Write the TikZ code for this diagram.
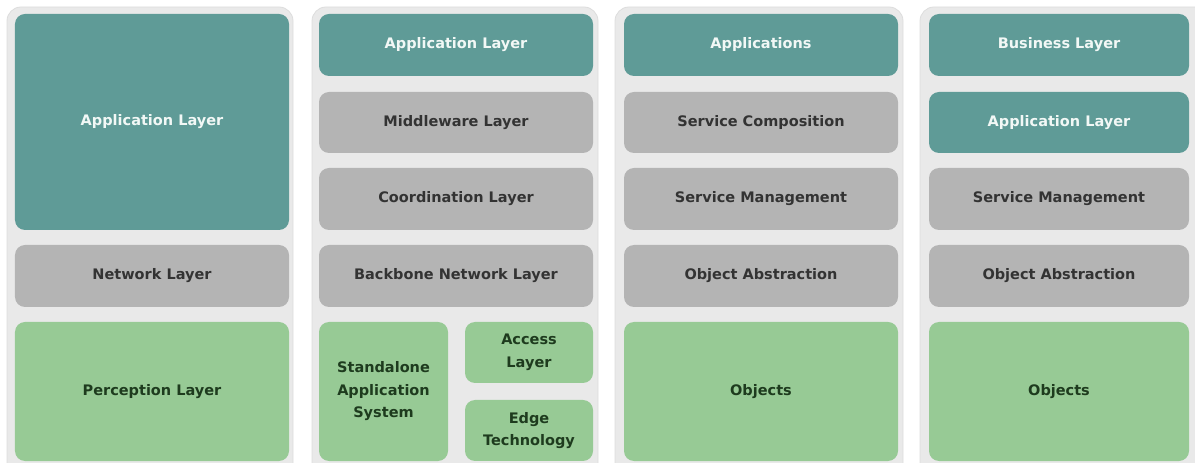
\documentclass[tikz,border=0pt]{standalone}
\usepackage{fontspec}
\setmainfont{DejaVu Sans}
\definecolor{panelbg}{HTML}{E9E9E9}
\definecolor{panelrim}{HTML}{DDDDDD}
\definecolor{tealfill}{HTML}{5F9B97}
\definecolor{grayfill}{HTML}{B4B4B4}
\definecolor{greenfill}{HTML}{97CA95}
\definecolor{tealtext}{HTML}{F2F8F6}
\definecolor{graytext}{HTML}{333333}
\definecolor{greentext}{HTML}{1E3B1E}
\tikzset{
  panel/.style={fill=panelbg, draw=panelrim, line width=0.8bp, rounded corners=14bp},
  layerbox/.style={rectangle, rounded corners=10bp, inner sep=0pt, draw=none,
    align=center, font=\bfseries\fontsize{14.5bp}{22.5bp}\selectfont},
  tealbox/.style={layerbox, fill=tealfill, text=tealtext},
  graybox/.style={layerbox, fill=grayfill, text=graytext},
  greenbox/.style={layerbox, fill=greenfill, text=greentext},
  sz/.style 2 args={minimum width=#1bp, minimum height=#2bp},
}
\begin{document}
\begin{tikzpicture}[x=1bp, y=-1bp]
  \useasboundingbox (0,0) rectangle (1195,463);
  \fill[white] (0,0) rectangle (1195,463);
  \begin{scope}
    \clip (0,0) rectangle (1195,463);
    % column panels
    \draw[panel] (7,7) rectangle (293,478);
    \draw[panel] (312,7) rectangle (598,478);
    \draw[panel] (615,7) rectangle (903,478);
    \draw[panel] (920,7) rectangle (1210,478);
  \end{scope}

  % column 1: three-layer model
  \node[tealbox, sz={274}{216}] (a1) at (152,122) {Application Layer};
  \node[graybox, sz={274}{62}] (a2) at (152,276) {Network Layer};
  \node[greenbox, sz={274}{139}] (a3) at (152,391.5) {Perception Layer};

  % column 2: five-layer model
  \node[tealbox, sz={274}{62}] (b1) at (456,45) {Application Layer};
  \node[graybox, sz={274}{61}] (b2) at (456,122.5) {Middleware Layer};
  \node[graybox, sz={274}{62}] (b3) at (456,199) {Coordination Layer};
  \node[graybox, sz={274}{62}] (b4) at (456,276) {Backbone Network Layer};
  \node[greenbox, sz={129}{139}] (b5) at (383.5,391.5) {Standalone\\Application\\System};
  \node[greenbox, sz={128}{61}] (b6) at (529,352.5) {Access\\Layer};
  \node[greenbox, sz={128}{61}] (b7) at (529,430.5) {Edge\\Technology};

  % column 3: SOA-based model
  \node[tealbox, sz={274}{62}] (c1) at (761,45) {Applications};
  \node[graybox, sz={274}{61}] (c2) at (761,122.5) {Service Composition};
  \node[graybox, sz={274}{62}] (c3) at (761,199) {Service Management};
  \node[graybox, sz={274}{62}] (c4) at (761,276) {Object Abstraction};
  \node[greenbox, sz={274}{139}] (c5) at (761,391.5) {Objects};

  % column 4: middleware-based model
  \node[tealbox, sz={260}{62}] (d1) at (1059,45) {Business Layer};
  \node[tealbox, sz={260}{61}] (d2) at (1059,122.5) {Application Layer};
  \node[graybox, sz={260}{62}] (d3) at (1059,199) {Service Management};
  \node[graybox, sz={260}{62}] (d4) at (1059,276) {Object Abstraction};
  \node[greenbox, sz={260}{139}] (d5) at (1059,391.5) {Objects};
\end{tikzpicture}
\end{document}
